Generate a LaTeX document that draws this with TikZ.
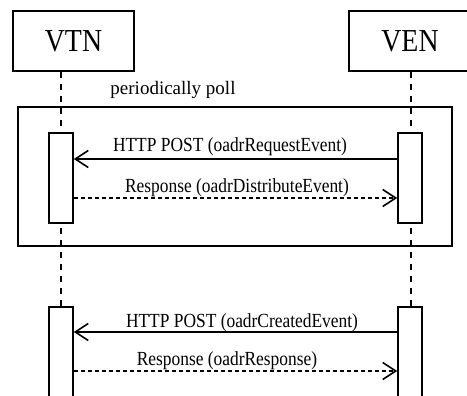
\documentclass[tikz,border=0pt]{standalone}
\usepackage{fontspec}
\setmainfont{Liberation Serif}
\newfontfamily\condfont[FakeStretch=0.87]{Liberation Serif}
\usetikzlibrary{arrows.meta}
\begin{document}
\begin{tikzpicture}[x=1pt,y=-1pt,
  actor/.style={draw,line width=1.6pt,minimum height=60pt,inner sep=0pt,font=\condfont\fontsize{32}{32}\selectfont},
  lifeline/.style={line width=1.6pt,dash pattern=on 6.5pt off 5.5pt},
  act/.style={draw,fill=white,line width=1.6pt,minimum width=24pt,inner sep=0pt},
  frame/.style={draw,line width=1.6pt,inner sep=0pt},
  msg/.style={line width=1.6pt,-{Straight Barb[length=13pt,width=17pt,line width=1.6pt]}},
  reply/.style={msg,dash pattern=on 4pt off 3pt},
  lbl/.style={font=\condfont\fontsize{20}{20}\selectfont,inner sep=0pt,anchor=base},
  looplbl/.style={font=\fontsize{19}{19}\selectfont,inner sep=0pt,anchor=base}]
\useasboundingbox (0,0) rectangle (467,396);
\clip (0,0) rectangle (467,396);
% actors
\node[actor,minimum width=121pt] (vtn) at (73.5,41) {VTN};
\node[actor,minimum width=122pt] (ven) at (410,41) {VEN};
% lifelines
\coordinate (vtnend) at (61,400);
\coordinate (venend) at (411,400);
\draw[lifeline] (vtn.south -| vtnend) -- (vtnend);
\draw[lifeline] (ven.south -| venend) -- (venend);
% loop frame
\node[frame,minimum width=434pt,minimum height=139pt] (loop) at (235,176.5) {};
\node[looplbl] (looptext) at (173,95) {periodically poll};
% activations
\node[act,minimum height=90pt] (a1) at (61,178) {};
\node[act,minimum height=90pt] (b1) at (410,178) {};
\node[act,minimum height=100pt] (a2) at (61,357) {};
\node[act,minimum height=100pt] (b2) at (410,357) {};
% messages
\coordinate (m1) at (0,159);
\coordinate (m2) at (0,198);
\coordinate (m3) at (0,332);
\coordinate (m4) at (0,371);
\draw[msg] (b1.west |- m1) -- (a1.east |- m1);
\draw[reply] (a1.east |- m2) -- (b1.west |- m2);
\draw[msg] (b2.west |- m3) -- (a2.east |- m3);
\draw[reply] (a2.east |- m4) -- (b2.west |- m4);
\node[lbl] (l1) at (230,152) {HTTP POST (oadrRequestEvent)};
\node[lbl] (l2) at (237,193) {Response (oadrDistributeEvent)};
\node[lbl] (l3) at (242,327) {HTTP POST (oadrCreatedEvent)};
\node[lbl] (l4) at (227,366) {Response (oadrResponse)};
\end{tikzpicture}
\end{document}
